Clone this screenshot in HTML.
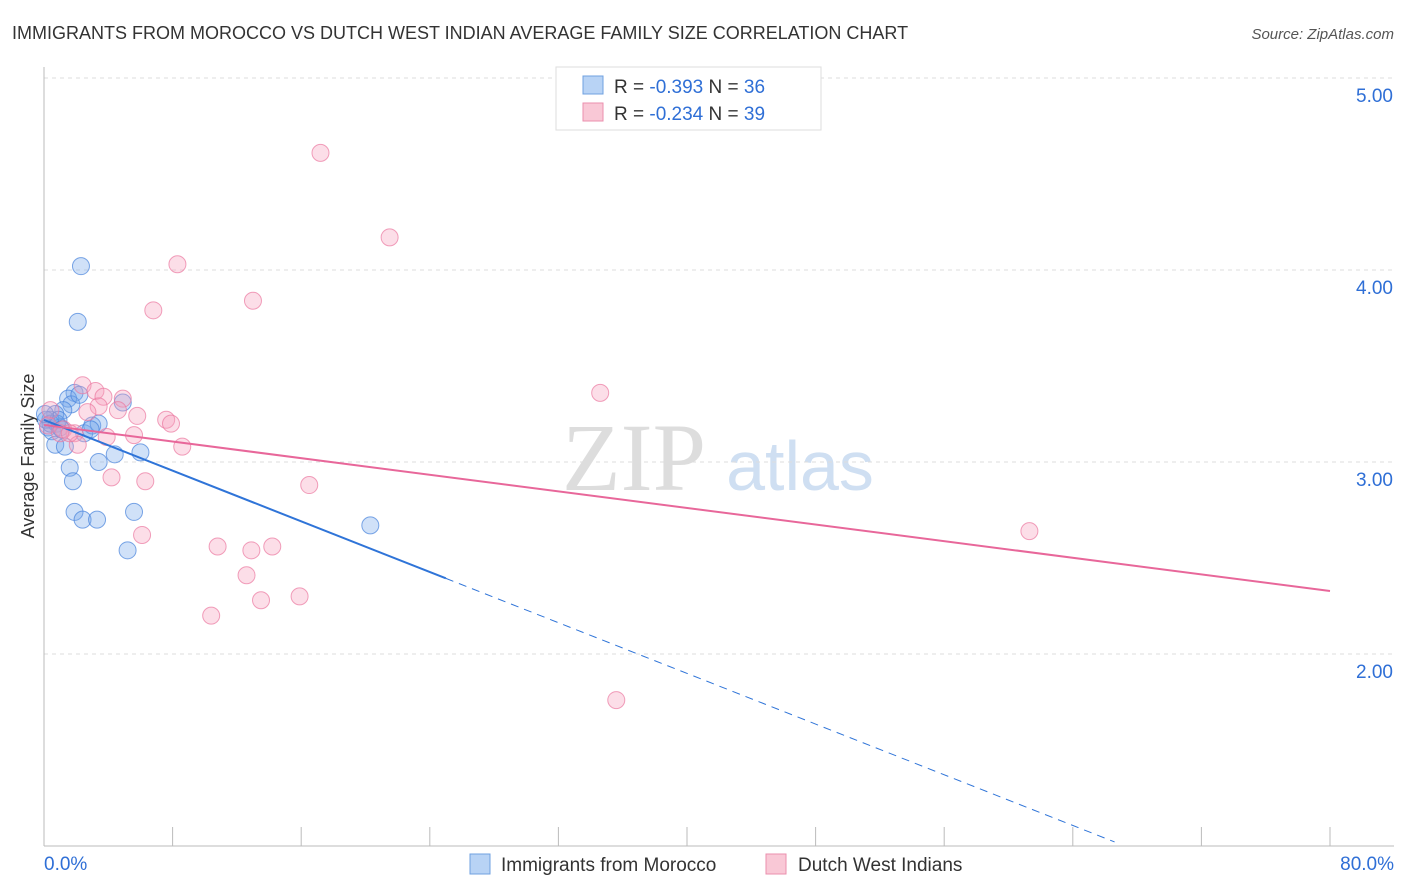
<!DOCTYPE html>
<html><head><meta charset="utf-8"><style>
body{margin:0;background:#fff;font-family:"Liberation Sans",sans-serif}
svg{display:block}
</style></head><body>
<svg id="c" width="1406" height="892">
<text x="12" y="39" font-size="18" fill="#333">IMMIGRANTS FROM MOROCCO VS DUTCH WEST INDIAN AVERAGE FAMILY SIZE CORRELATION CHART</text>
<text x="1394" y="39" font-size="15" fill="#555" font-style="italic" text-anchor="end">Source: ZipAtlas.com</text>
<text x="634" y="490" font-size="96" fill="#ddd" font-family="Liberation Serif,serif" text-anchor="middle">ZIP</text>
<text x="800" y="490" font-size="70" fill="#cfdff2" text-anchor="middle">atlas</text>
<text transform="translate(34,456) rotate(-90)" font-size="18" fill="#333" text-anchor="middle">Average Family Size</text>
<g id="grid"></g><g id="pts"></g><g id="lines"></g>
<g>
<rect x="556" y="67" width="265" height="63" fill="#fff" stroke="#ddd"/>
<rect x="583" y="76" width="20" height="18" fill="#b8d3f5" stroke="#6fa0e0"/>
<rect x="583" y="103" width="20" height="18" fill="#f9c8d6" stroke="#eb8fae"/>
<text x="614" y="93" font-size="19" fill="#333">R = <tspan fill="#2f6fd6">-0.393</tspan>   N = <tspan fill="#2f6fd6">36</tspan></text>
<text x="614" y="120" font-size="19" fill="#333">R = <tspan fill="#2f6fd6">-0.234</tspan>   N = <tspan fill="#2f6fd6">39</tspan></text>
</g>
<g>
<rect x="470" y="854" width="20" height="20" fill="#b8d3f5" stroke="#6fa0e0"/>
<text x="501" y="871" font-size="19" fill="#333">Immigrants from Morocco</text>
<rect x="766" y="854" width="20" height="20" fill="#f9c8d6" stroke="#eb8fae"/>
<text x="798" y="871" font-size="19" fill="#333">Dutch West Indians</text>
</g>
</svg>
<script>
const xTickLabels=["0.0%","80.0%"];
const yTicks=[2,3,4,5];
const blueX=[2.3,2.1,1.9,1.5,1.7,1.2,0.7,0.4,0.25,0.5,0.8,1.0,0.7,1.3,2.5,3.0,3.4,2.9,1.6,1.8,3.4,4.4,6.0,4.9,1.9,2.4,3.3,5.6,5.2,20.3,0.12,0.4,0.9,1.1,2.2,0.06];
const blueY=[4.02,3.73,3.36,3.33,3.30,3.27,3.25,3.22,3.18,3.16,3.20,3.18,3.09,3.08,3.15,3.19,3.20,3.17,2.97,2.90,3.00,3.04,3.05,3.31,2.74,2.70,2.70,2.74,2.54,2.67,3.22,3.20,3.22,3.17,3.35,3.25];
const pinkX=[17.2,21.5,8.3,13.0,6.8,34.6,2.4,3.2,3.7,4.9,3.4,4.6,2.7,5.8,7.6,7.9,1.2,1.9,3.9,5.6,2.1,8.6,4.2,6.3,16.5,6.1,10.8,12.9,14.2,12.6,13.5,15.9,10.4,35.6,61.3,0.4,0.25,1.0,1.6];
const pinkY=[4.61,4.17,4.03,3.84,3.79,3.36,3.40,3.37,3.34,3.33,3.29,3.27,3.26,3.24,3.22,3.20,3.17,3.15,3.13,3.14,3.09,3.08,2.92,2.90,2.88,2.62,2.56,2.54,2.56,2.41,2.28,2.30,2.20,1.76,2.64,3.27,3.19,3.15,3.15];
const blueLine=[3.219,-0.033]; const blueSolidEnd=25; const blueDashEnd=66.6;
const pinkLine=[3.193,-0.01081];
const X=v=>44+v/80*1286, Y=v=>846-(v-1)*192;
const NS="http://www.w3.org/2000/svg";
function mk(t,a,p){const e=document.createElementNS(NS,t);for(const k in a)e.setAttribute(k,a[k]);p.appendChild(e);return e;}
const grid=document.getElementById('grid');
yTicks.forEach(t=>{
 const l=mk('line',{x1:44,x2:1394,y1:Y(t),y2:Y(t),stroke:'#ddd','stroke-dasharray':'4,4'},grid);
 
 
 const tx=mk('text',{x:1393,y:Y(t)+24,'font-size':19,fill:'#2f6fd6','text-anchor':'end'},grid);tx.textContent=t.toFixed(2);
 
 
});
mk('line',{x1:44,x2:44,y1:67,y2:846,stroke:'#bbb'},grid);
mk('line',{x1:44,x2:1394,y1:846,y2:846,stroke:'#bbb'},grid);
for(let i=0;i<=10;i++){mk('line',{x1:X(i*8),x2:X(i*8),y1:827,y2:846,stroke:'#bbb'},grid);}
[[0,44,'start'],[80,1394,'end']].forEach((d,i)=>{const t=mk('text',{x:d[1],y:870,'font-size':19,fill:'#2f6fd6','text-anchor':d[2]},grid);t.textContent=xTickLabels[i];
 
 });
const pts=document.getElementById('pts');
blueX.forEach((x,i)=>{const c=mk('circle',{cx:X(x),cy:Y(blueY[i]),r:8.5,fill:'rgba(120,170,235,0.35)',stroke:'rgba(70,130,220,0.7)'},pts);
 
 });
pinkX.forEach((x,i)=>{const c=mk('circle',{cx:X(x),cy:Y(pinkY[i]),r:8.5,fill:'rgba(245,160,190,0.35)',stroke:'rgba(235,120,160,0.7)'},pts);
 
 });
const L=document.getElementById('lines');
const f=(l,x)=>l[0]+l[1]*x;
let a=mk('line',{x1:X(0),y1:Y(f(blueLine,0)),x2:X(blueSolidEnd),y2:Y(f(blueLine,blueSolidEnd)),stroke:'#2f74d8','stroke-width':2},L);


a=mk('line',{x1:X(blueSolidEnd),y1:Y(f(blueLine,blueSolidEnd)),x2:X(blueDashEnd),y2:Y(f(blueLine,blueDashEnd)),stroke:'#2f74d8','stroke-width':1,'stroke-dasharray':'8,6'},L);


a=mk('line',{x1:X(0),y1:Y(f(pinkLine,0)),x2:X(80),y2:Y(f(pinkLine,80)),stroke:'#e8679a','stroke-width':2},L);


</script>
</body></html>
